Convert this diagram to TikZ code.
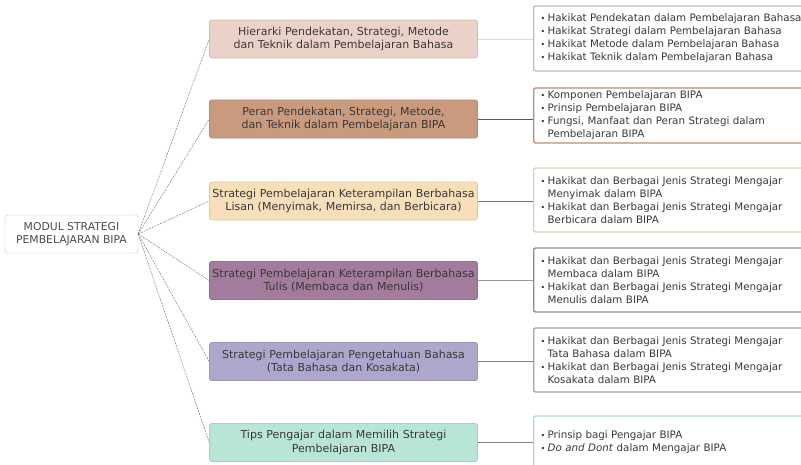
\documentclass[tikz,border=0pt]{standalone}
\usepackage{fontspec}
\setmainfont{DejaVu Sans}
\usepackage{xcolor}
\usepackage{tikz}

\definecolor{teks}{HTML}{3B3838}
\definecolor{isiA}{HTML}{EBD2C8}
\definecolor{isiB}{HTML}{C99A7D}
\definecolor{isiC}{HTML}{F6DFB9}
\definecolor{isiD}{HTML}{A37B9D}
\definecolor{isiE}{HTML}{ACA8CD}
\definecolor{isiF}{HTML}{B9E5D9}
\definecolor{tepiA}{HTML}{CDB9B1}
\definecolor{tepiB}{HTML}{B98F76}
\definecolor{tepiC}{HTML}{DCD2B6}
\definecolor{tepiD}{HTML}{9C7E98}
\definecolor{tepiE}{HTML}{A19EB8}
\definecolor{tepiF}{HTML}{B3DACF}

\newcommand{\butir}[1]{\noindent\hangindent=8pt\hangafter=1\makebox[8pt][l]{\hspace{1pt}\raisebox{0.3pt}{\footnotesize\textbullet}}#1\par}

\begin{document}
\begin{tikzpicture}[x=1pt,y=-1pt,
	akarbox/.style={draw=black!22, fill=white, rounded corners=3pt, minimum width=133pt, minimum height=38pt, align=center, inner sep=2pt, text=black!70, font=\fontsize{10.8}{13}\selectfont},
	katbox/.style={rounded corners=2pt, line width=0.6pt, minimum width=267pt, minimum height=38pt, text width=266pt, align=center, inner sep=1pt, text=teks, font=\fontsize{11}{13.5}\selectfont},
	isibox/.style={fill=white, rounded corners=2pt, line width=1.3pt, anchor=west, text width=290pt, align=left, inner xsep=6pt, inner ysep=2pt, text=teks, font=\fontsize{10.3}{13}\selectfont},
	putus/.style={draw=black!50, line width=0.5pt, dash pattern=on 2pt off 1pt},
	sambung/.style={line width=0.8pt}]
	\useasboundingbox (0,0) rectangle (801,464);
	\clip (0,0) rectangle (801,464);

	\node[akarbox] (akar) at (71.5,234) {MODUL STRATEGI\\PEMBELAJARAN BIPA};

	\node[katbox, fill=isiA, draw=isiA!90!black] (k1) at (343.5,39) {Hierarki Pendekatan, Strategi, Metode\\dan Teknik dalam Pembelajaran Bahasa};
	\node[katbox, fill=isiB, draw=isiB!90!black] (k2) at (343.5,119) {Peran Pendekatan, Strategi, Metode,\\dan Teknik dalam Pembelajaran BIPA};
	\node[katbox, fill=isiC, draw=isiC!90!black] (k3) at (343.5,201) {Strategi Pembelajaran Keterampilan Berbahasa\\Lisan (Menyimak, Memirsa, dan Berbicara)};
	\node[katbox, fill=isiD, draw=isiD!90!black] (k4) at (343.5,280.5) {Strategi Pembelajaran Keterampilan Berbahasa\\Tulis (Membaca dan Menulis)};
	\node[katbox, fill=isiE, draw=isiE!90!black] (k5) at (343.5,361.5) {Strategi Pembelajaran Pengetahuan Bahasa\\(Tata Bahasa dan Kosakata)};
	\node[katbox, fill=isiF, draw=isiF!90!black] (k6) at (343.5,442.5) {Tips Pengajar dalam Memilih Strategi\\Pembelajaran BIPA};

	\node[isibox, draw=tepiA, minimum height=65pt] (d1) at (533,38.5) {%
		\butir{Hakikat Pendekatan dalam Pembelajaran Bahasa}
		\butir{Hakikat Strategi dalam Pembelajaran Bahasa}
		\butir{Hakikat Metode dalam Pembelajaran Bahasa}
		\butir{Hakikat Teknik dalam Pembelajaran Bahasa}};
	\node[isibox, draw=tepiB, minimum height=55pt] (d2) at (533,115.5) {%
		\butir{Komponen Pembelajaran BIPA}
		\butir{Prinsip Pembelajaran BIPA}
		\butir{Fungsi, Manfaat dan Peran Strategi dalam\newline Pembelajaran BIPA}};
	\node[isibox, draw=tepiC, minimum height=64pt] (d3) at (533,200) {%
		\butir{Hakikat dan Berbagai Jenis Strategi Mengajar\newline Menyimak dalam BIPA}
		\butir{Hakikat dan Berbagai Jenis Strategi Mengajar\newline Berbicara dalam BIPA}};
	\node[isibox, draw=tepiD, minimum height=64pt] (d4) at (533,280) {%
		\butir{Hakikat dan Berbagai Jenis Strategi Mengajar\newline Membaca dalam BIPA}
		\butir{Hakikat dan Berbagai Jenis Strategi Mengajar\newline Menulis dalam BIPA}};
	\node[isibox, draw=tepiE, minimum height=64pt] (d5) at (533,360) {%
		\butir{Hakikat dan Berbagai Jenis Strategi Mengajar\newline Tata Bahasa dalam BIPA}
		\butir{Hakikat dan Berbagai Jenis Strategi Mengajar\newline Kosakata dalam BIPA}};
	\node[isibox, draw=tepiF, minimum height=52pt] (d6) at (533,442) {%
		\butir{Prinsip bagi Pengajar BIPA}
		\butir{\textit{Do and Dont} dalam Mengajar BIPA}};

	% garis dari akar
	\draw[putus] (akar.east) -- (k1.west);
	\draw[putus] (akar.east) -- (k2.west);
	\draw[putus] (akar.east) -- (k3.west);
	\draw[putus] (akar.east) -- (k4.west);
	\draw[putus] (akar.east) -- (k5.west);
	\draw[putus] (akar.east) -- (k6.west);

	\draw[sambung, black!15] (k1.east) -- (k1.east -| d1.west);
	\draw[sambung, black!65] (k2.east) -- (k2.east -| d2.west);
	\draw[sambung, black!55] (k3.east) -- (k3.east -| d3.west);
	\draw[sambung, black!40] (k4.east) -- (k4.east -| d4.west);
	\draw[sambung, black!50] (k5.east) -- (k5.east -| d5.west);
	\draw[sambung, black!50] (k6.east) -- (k6.east -| d6.west);
\end{tikzpicture}
\end{document}
